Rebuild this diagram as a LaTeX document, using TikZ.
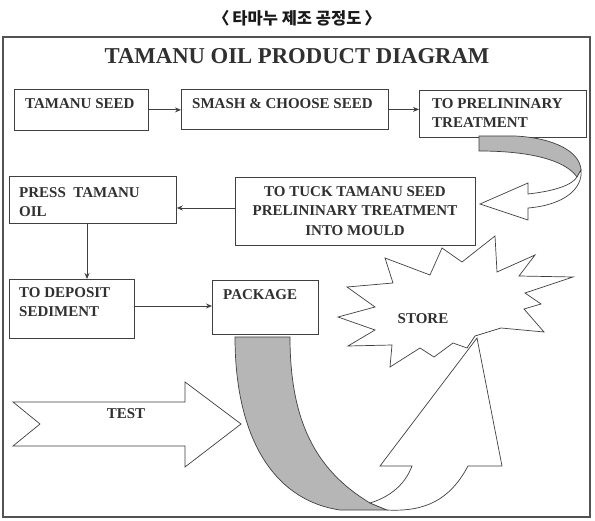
\documentclass[tikz,border=0pt]{standalone}
\usepackage{fontspec}
\setmainfont{Liberation Serif}
\newfontfamily\krfont{Noto Sans CJK KR}
\usetikzlibrary{arrows.meta}
\definecolor{ink}{HTML}{303030}
\definecolor{edge}{HTML}{404040}
\definecolor{ribbon}{HTML}{B6B6B6}
\begin{document}
\begin{tikzpicture}[x=1pt,y=-1pt,
  box/.style={draw=edge, line width=0.8pt, anchor=north west, inner sep=0pt},
  lbl/.style={font=\fontsize{15}{19}\selectfont\bfseries, text=ink, inner sep=0pt, align=left},
  flow/.style={draw=edge, line width=0.8pt, -{Stealth[length=6pt,width=5pt]}},
  shapeline/.style={draw=edge, line width=0.7pt, line join=miter}]
\useasboundingbox (0,0) rectangle (595,521);
\fill[white] (0,0) rectangle (595,521);

% titles
\node[font=\krfont\bfseries\fontsize{16.5}{19}\selectfont, text=black!90] (kt) at (297,18) {〈\hspace{3pt}타마누 제조 공정도\hspace{3pt}〉};
\draw[draw=edge!90, line width=1.1pt] (3,37) rectangle (590,517);
\node[font=\fontsize{22.7}{27}\selectfont\bfseries, text=ink] (title) at (297,56) {TAMANU OIL PRODUCT DIAGRAM};

% boxes
\node[box, minimum width=134pt, minimum height=41pt] (seed) at (14,89) {};
\node[box, minimum width=207pt, minimum height=40pt] (smash) at (181,89) {};
\node[box, minimum width=167pt, minimum height=47pt] (prelim) at (419,90) {};
\node[box, minimum width=167pt, minimum height=47pt] (press) at (9,176) {};
\node[box, minimum width=240pt, minimum height=68pt] (tuck) at (235,177) {};
\node[box, minimum width=125pt, minimum height=59pt] (deposit) at (9,279) {};
\node[box, minimum width=106pt, minimum height=54pt] (package) at (212,280) {};

% box texts
\node[lbl, anchor=west] (tseed) at (25,104) {TAMANU SEED};
\node[lbl, anchor=west] (tsmash) at (192,104) {SMASH \& CHOOSE SEED};
\node[lbl, anchor=west] (tprelim) at (432,113) {TO PRELININARY\\TREATMENT};
\node[lbl, anchor=west] (tpress) at (19,202) {PRESS \ TAMANU\\OIL};
\node[lbl, align=center, font=\fontsize{15}{19.5}\selectfont\bfseries] (ttuck) at (355,211) {TO TUCK TAMANU SEED\\PRELININARY TREATMENT\\INTO MOULD};
\node[lbl, anchor=west] (tdeposit) at (19,302) {TO DEPOSIT\\SEDIMENT};
\node[lbl, anchor=west] (tpackage) at (223,295) {PACKAGE};

% connectors
\coordinate (y208) at (0,208);
\coordinate (x87) at (87,0);
\coordinate (y306) at (0,306);
\draw[flow] (seed.east) -- (seed.east -| smash.west);
\draw[flow] (smash.east) -- (smash.east -| prelim.west);
\draw[flow] (tuck.west |- y208) -- (press.east |- y208);
\draw[flow] (press.south -| x87) -- (deposit.north -| x87);
\draw[flow] (deposit.east |- y306) -- (package.west |- y306);

% top-right U-turn arrow
\draw[shapeline, fill=ribbon] (479,136) -- (515,136) .. controls (555,138) and (580,152) .. (581,170)
   -- (577,177) .. controls (565,160) and (530,151) .. (479,151) -- cycle;
\draw[shapeline, fill=white] (581,170) .. controls (583,188) and (565,205) .. (528,208)
   -- (528,220) -- (480,204) -- (528,183) -- (528,194)
   .. controls (555,191) and (572,185) .. (577,177) -- cycle;

% star
\draw[shapeline, fill=white] (442,248) -- (462,262) -- (495,236) -- (497,272) -- (535,255) -- (519,276)
  -- (573,277) -- (525,293) -- (541,304) -- (524,309) -- (544,332) -- (501,328) -- (475,336)
  -- (467,348) -- (453,343) -- (434,357) -- (420,348) -- (390,367) -- (392,345) -- (348,346)
  -- (375,330) -- (338,317) -- (375,307) -- (347,287) -- (393,283) -- (385,258) -- (430,275) -- cycle;
\node[lbl] (tstore) at (423,319) {STORE};

% bottom curved arrow
\draw[shapeline, fill=ribbon] (235,337) -- (290,337) .. controls (290,420) and (315,470) .. (370,503)
  -- (387,510) -- (340,510) .. controls (272,500) and (235,435) .. (235,337) -- cycle;
\draw[shapeline, fill=white] (370,503) .. controls (393,496) and (406,482) .. (412,466)
  -- (380,466) -- (477,338) -- (502,466) -- (468,466)
  .. controls (450,500) and (425,512) .. (387,510) -- cycle;

% TEST arrow
\draw[shapeline, fill=white] (13,402) -- (185,402) -- (185,382) -- (241,424) -- (185,467)
  -- (185,446) -- (13,446) -- (40,424) -- cycle;
\node[lbl] (ttest) at (126,414) {TEST};
\end{tikzpicture}
\end{document}
